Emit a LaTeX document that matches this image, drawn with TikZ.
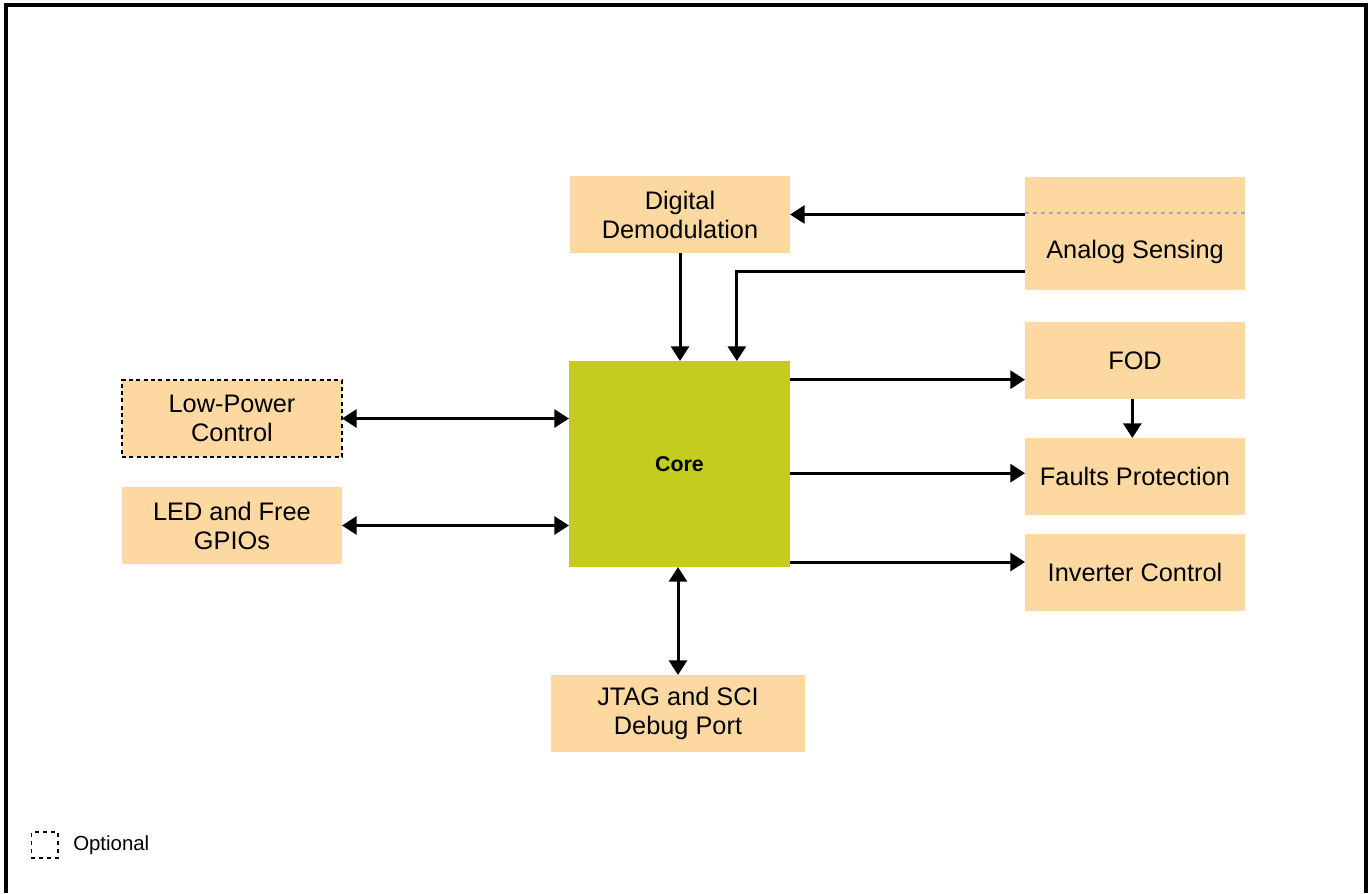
\documentclass[tikz,border=0pt]{standalone}
\usepackage{fontspec}
\setmainfont{Liberation Sans}
\usetikzlibrary{arrows.meta}
\definecolor{boxfill}{HTML}{FDD9A1}
\definecolor{corefill}{HTML}{C3CC1F}
\tikzset{
  block/.style={fill=boxfill, inner sep=0pt, outer sep=0pt, align=center,
    minimum width=165pt, minimum height=57.75pt, font=\fontsize{19}{21.75}\selectfont},
  arr/.style={line width=2.25pt, -{Triangle[width=13.5pt,length=11pt]}},
  dblarr/.style={line width=2.25pt, {Triangle[width=13.5pt,length=11pt]}-{Triangle[width=13.5pt,length=11pt]}}
}
\begin{document}
\begin{tikzpicture}[x=0.75pt, y=-0.75pt]
  \useasboundingbox (0,0) rectangle (1369,893);
  % frame
  \draw[line width=2.5pt] (6,893) -- (6,5) -- (1366,5) -- (1366,893);

  % blocks
  \node[block] (DD) at (680,214.5) {Digital\\Demodulation};
  \node[block, minimum height=84.75pt] (AS) at (1135,233.5) {};
  \node[font=\fontsize{19}{21.75}\selectfont] (ASt) at (1135,252) {Analog Sensing};
  \node[block] (FOD) at (1135,360.5) {FOD};
  \node[block] (FP) at (1135,476.5) {Faults Protection};
  \node[block] (IC) at (1135,572.5) {Inverter Control};
  \node[block, fill=corefill, minimum width=165.75pt, minimum height=154.5pt,
    font=\fontsize{16}{19}\selectfont\bfseries] (Core) at (679.5,464) {Core};
  \node[block, draw, dashed, line width=1.3pt, dash pattern=on 3pt off 2.5pt] (LP) at (232,418.5) {Low-Power\\Control};
  \node[block] (LED) at (232,525.5) {LED and Free\\GPIOs};
  \node[block, minimum width=190.5pt] (JT) at (678,713.5) {JTAG and SCI\\Debug Port};

  % dashed split inside analog sensing
  \draw[gray!70, dashed, line width=0.8pt] ([yshift=-27pt]AS.north west) -- ([yshift=-27pt]AS.north east);

  % connectors
  \draw[arr] (AS.west |- DD.east) -- (DD.east);
  \draw[arr] ([yshift=14pt]AS.south west) -| ([xshift=43pt]Core.north);
  \draw[arr] (DD.south) -- (DD.south |- Core.north);
  \draw[dblarr] (LP.east) -- (LP.east -| Core.west);
  \draw[dblarr] (LED.east) -- (LED.east -| Core.west);
  \draw[dblarr] (Core.south -| JT.north) -- (JT.north);
  \draw[arr] ([yshift=-14pt]Core.north east) coordinate (c1) -- (c1 -| FOD.west);
  \draw[arr] ([yshift=2.5pt]Core.east |- FP.west) coordinate (c2) -- (c2 -| FP.west);
  \draw[arr] ([yshift=3.75pt]Core.south east) coordinate (c3) -- (c3 -| IC.west);
  \draw[arr] ([xshift=-2pt]FOD.south) -- ([xshift=-2pt]FP.north);

  % legend
  \node[draw, dashed, line width=1pt, dash pattern=on 3pt off 3pt, inner sep=0pt,
    minimum width=20pt, minimum height=19.5pt] (key) at (44.5,845) {};
  \node[anchor=west, inner sep=0pt, font=\fontsize{15.3}{18}\selectfont] (keyt) at (73,845) {Optional};
\end{tikzpicture}
\end{document}
